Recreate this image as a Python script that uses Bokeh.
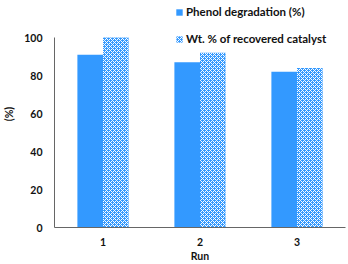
from bokeh.plotting import figure
from bokeh.models import ColumnDataSource, FactorRange, Range1d, Legend, LegendItem, FixedTicker
from bokeh.transform import dodge
from bokeh.embed import file_html
from bokeh.resources import INLINE

runs = ["1", "2", "3"]
phenol = [91, 87, 82]
recovered = [100, 92, 84]
yticks = [0, 20, 40, 60, 80, 100]
series_names = ["Phenol degradation (%)", "Wt. % of recovered catalyst"]

BLUE = "#3399ff"
FONT = "Lato"

src = ColumnDataSource(dict(run=runs, phenol=phenol, recovered=recovered))

p = figure(width=348, height=264, x_range=FactorRange(*runs), y_range=Range1d(0, 119.5),
           output_backend="svg", toolbar_location=None,
           min_border_left=51, min_border_right=3, min_border_top=0, min_border_bottom=37)
p.outline_line_color = None
p.grid.visible = False
p.x_range.range_padding = 0

r1 = p.vbar(x=dodge("run", -0.132, range=p.x_range), top="phenol", width=0.264, source=src,
            fill_color=BLUE, line_color=None)
r2 = p.vbar(x=dodge("run", 0.132, range=p.x_range), top="recovered", width=0.264, source=src,
            fill_color=BLUE, line_color=None, hatch_pattern="diagonal_cross",
            hatch_color="white", hatch_scale=4, hatch_weight=1)

for ax in (p.xaxis[0], p.yaxis[0]):
    ax.major_tick_line_color = None
    ax.minor_tick_line_color = None
    ax.major_tick_out = 0
    ax.major_tick_in = 0
    ax.minor_tick_out = 0
    ax.minor_tick_in = 0
    ax.axis_line_color = "#666666"
    ax.major_label_text_font = FONT
    ax.major_label_text_font_style = "bold"
    ax.major_label_text_font_size = "10.5px"
    ax.major_label_text_color = "#111111"
    ax.axis_label_text_font = FONT
    ax.axis_label_text_font_style = "bold"
    ax.axis_label_text_font_size = "10.5px"
    ax.axis_label_text_color = "#111111"

p.yaxis.ticker = FixedTicker(ticks=yticks)
p.yaxis.bounds = (0, 100)
p.yaxis.major_label_standoff = 12
p.yaxis.axis_label = "(%)"
p.yaxis.axis_label_standoff = 6
p.xaxis.major_label_standoff = 10
p.xaxis.axis_label = "Run"
p.xaxis.axis_label_standoff = 1

legend = Legend(items=[LegendItem(label=series_names[0], renderers=[r1]),
                       LegendItem(label=series_names[1], renderers=[r2])],
                location=(121, 182), padding=0, margin=0, spacing=14,
                glyph_width=8, glyph_height=8, label_height=12, label_standoff=3,
                label_text_font=FONT, label_text_font_style="bold",
                label_text_font_size="11.5px", label_text_color="#111111",
                border_line_color=None, background_fill_alpha=0)
p.add_layout(legend)

open("out.html", "w").write(file_html(p, INLINE))
